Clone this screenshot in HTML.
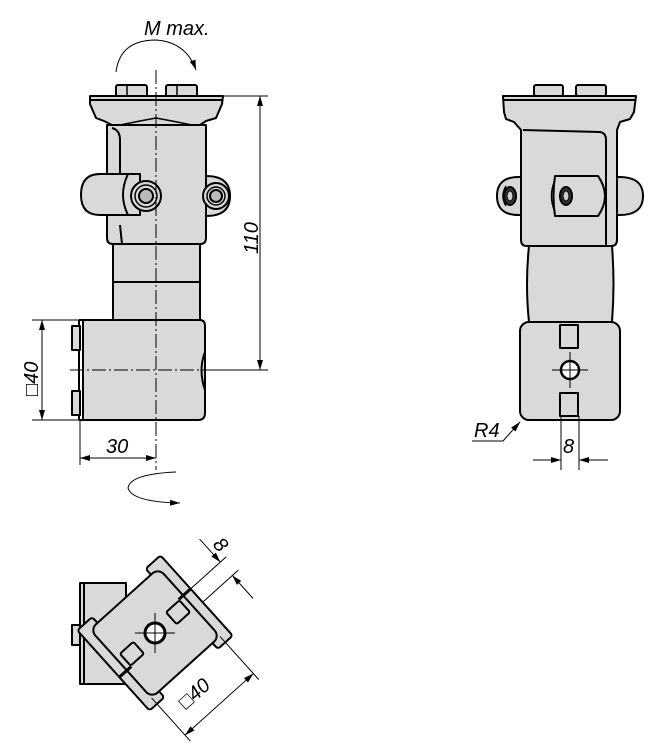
<!DOCTYPE html>
<html><head><meta charset="utf-8"><style>
html,body{margin:0;padding:0;background:#fff}
svg{display:block}
text{font-family:"Liberation Sans",sans-serif;font-style:italic;fill:#000}
</style></head><body>
<svg width="657" height="750" viewBox="0 0 657 750" xmlns="http://www.w3.org/2000/svg">
<defs>
<marker id="ar" viewBox="0 0 10 6" refX="10" refY="3" markerWidth="12" markerHeight="6" markerUnits="userSpaceOnUse" orient="auto-start-reverse"><path d="M0,0 L10,3 L0,6 Z" fill="#000"/></marker>
</defs>
<g stroke="#000" stroke-width="2" fill="#d9d9d9" stroke-linejoin="round">
<!-- LEFT VIEW -->
<rect x="116" y="85" width="31" height="12" rx="2"/>
<rect x="166" y="85" width="31" height="12" rx="2"/>
<line x1="127" y1="85" x2="127" y2="96" stroke-width="1.5"/>
<line x1="177" y1="85" x2="177" y2="96" stroke-width="1.5"/>
<path d="M90,96 L223,96 L222,104 L216,118 L206,121 L200,125 L112,125 L104,121 L96,118 L90,104 Z"/>
<line x1="90" y1="100" x2="223" y2="100"/>
<path d="M120,125 L140,121 L156,118 L172,121 L192,125" fill="none" stroke-width="1.5"/>
<rect x="113" y="240" width="87" height="82" />
<line x1="113" y1="282" x2="200" y2="282"/>
<path d="M107,125 L206,125 L206,238 Q206,244 200,244 L113,244 Q107,244 107,238 Z"/>
<path d="M122,244 L120,225 M120,214 L120,140 Q120,130 112,128" fill="none"/>
<path d="M100,174 L140,174 L140,215 L100,215 Q81,215 81,195 Q81,174 100,174 Z"/>
<path d="M128,174 Q118,195 128,215" fill="none"/>
<circle cx="146" cy="196" r="15"/>
<circle cx="146" cy="196" r="11" stroke-width="1.5"/>
<circle cx="146" cy="196" r="7" fill="#bbb"/>
<path d="M206,176 Q230,176 230,196 Q230,216 206,216 Z"/>
<circle cx="216" cy="196" r="13"/>
<circle cx="216" cy="196" r="9" stroke-width="1.5"/>
<circle cx="216" cy="196" r="6" fill="#bbb"/>
<path d="M83,320 L200,320 Q205,320 205,326 L205,413 Q205,420 198,420 L83,420 Z"/>
<line x1="79" y1="320" x2="79" y2="420"/>
<line x1="79" y1="320" x2="84" y2="320"/><line x1="79" y1="420" x2="84" y2="420"/>
<rect x="72" y="326" width="8" height="24"/>
<rect x="72" y="391" width="8" height="24"/>
<path d="M205,352 Q198,370 205,390" fill="none"/>
<!-- RIGHT VIEW -->
<rect x="534" y="85" width="29" height="11" rx="2"/>
<rect x="576" y="85" width="30" height="11" rx="2"/>
<path d="M503,96 L636,96 L634,112 L630,119 L620,122 L617,130 L617,240 Q617,246 611,246 L527,246 Q521,246 521,240 L521,130 L514,122 L506,119 L504,112 Z"/>
<line x1="503" y1="100" x2="636" y2="100"/>
<path d="M523,130 L600,132 Q606,133 606,140 L606,246" fill="none"/>
<path d="M521,177 Q497,176 497,196 Q497,216 521,215 Z"/>
<path d="M617,177 Q643,176 643,196 Q643,216 617,215 Z"/>
<path d="M555,176 L598,176 Q612,196 598,216 L555,216 Q552,196 555,176 Z"/>
<path d="M506,186 Q500,196 506,206 M555,180 Q548,196 555,212" fill="none" stroke-width="1.5"/>
<ellipse cx="510" cy="196" rx="6" ry="9" fill="#333"/>
<ellipse cx="566" cy="196" rx="6" ry="9" fill="#333"/>
<ellipse cx="510" cy="196" rx="3" ry="5" fill="#ccc" stroke-width="1"/>
<ellipse cx="566" cy="196" rx="3" ry="5" fill="#ccc" stroke-width="1"/>
<path d="M529,246 L612,246 Q615,284 612,322 L529,322 Q525,284 529,246 Z"/>
<rect x="520" y="322" width="100" height="98" rx="9"/>
<rect x="560" y="325" width="18" height="23"/>
<rect x="560" y="393" width="18" height="23"/>
<circle cx="570" cy="370" r="9" fill="#fff" stroke-width="2.5"/>
<!-- BOTTOM VIEW -->
<rect x="80" y="583" width="46" height="101"/>
<line x1="84" y1="583" x2="84" y2="684"/>
<rect x="72" y="625" width="8" height="20"/>
<g transform="translate(155,633) rotate(-42)">
<rect x="36" y="-54" width="20" height="108" rx="3"/>
<rect x="-56" y="-54" width="20" height="108" rx="3"/>
<rect x="-46" y="-46" width="92" height="92" rx="8"/>
<line x1="40" y1="-9" x2="56" y2="-9" stroke-width="3"/>
<line x1="-56" y1="9" x2="-40" y2="9" stroke-width="3"/>
<rect x="22" y="-8" width="18" height="16" rx="2"/>
<rect x="-40" y="-8" width="18" height="16" rx="2"/>
</g>
<circle cx="155" cy="633" r="10" fill="#fff" stroke-width="3"/>
</g>
<!-- centerlines -->
<g stroke="#000" stroke-width="1" fill="none" stroke-dasharray="14,3,2,3">
<line x1="156" y1="70" x2="156" y2="470"/>
<line x1="70" y1="370" x2="215" y2="370"/>
</g>
<g stroke="#000" stroke-width="1" fill="none">
<line x1="552" y1="370" x2="588" y2="370"/><line x1="570" y1="352" x2="570" y2="388"/>
<line x1="135" y1="633" x2="175" y2="633"/><line x1="155" y1="613" x2="155" y2="653"/>
<line x1="205" y1="96" x2="268" y2="96"/>
<line x1="205" y1="370" x2="268" y2="370"/>
<line x1="260" y1="96" x2="260" y2="370" marker-start="url(#ar)" marker-end="url(#ar)"/>
<line x1="32" y1="320" x2="82" y2="320"/>
<line x1="32" y1="420" x2="82" y2="420"/>
<line x1="42" y1="320" x2="42" y2="420" marker-start="url(#ar)" marker-end="url(#ar)"/>
<line x1="80" y1="420" x2="80" y2="465"/>
<line x1="80" y1="458" x2="156" y2="458" marker-start="url(#ar)" marker-end="url(#ar)"/>
<line x1="561" y1="416" x2="561" y2="470"/>
<line x1="579" y1="416" x2="579" y2="470"/>
<line x1="533" y1="460" x2="561" y2="460" marker-end="url(#ar)"/>
<line x1="608" y1="460" x2="579" y2="460" marker-end="url(#ar)"/>
<polyline points="472,441 503,441 520,422" marker-end="url(#ar)"/>
<path d="M116,72 Q120,40 156,40 Q186,42 196,70" marker-end="url(#ar)"/>
<path d="M176,472 Q130,474 128,488 Q132,502 180,503" marker-end="url(#ar)"/>
<g transform="translate(155,633) rotate(-42)">
<line x1="56" y1="-9" x2="104" y2="-9"/>
<line x1="56" y1="9" x2="104" y2="9"/>
<line x1="96" y1="-40" x2="96" y2="-9" marker-end="url(#ar)"/>
<line x1="96" y1="40" x2="96" y2="9" marker-end="url(#ar)"/>
<line x1="-46" y1="46" x2="-46" y2="104"/>
<line x1="46" y1="46" x2="46" y2="104"/>
<line x1="-46" y1="96" x2="46" y2="96" marker-start="url(#ar)" marker-end="url(#ar)"/>
</g>
</g>
<g font-size="20">
<text x="144" y="35">M max.</text>
<text x="106" y="453">30</text>
<text x="474" y="437">R4</text>
<text x="563" y="453">8</text>
<text transform="translate(258,254) rotate(-90)">110</text>
<text transform="translate(38,396) rotate(-90)">□40</text>
<text transform="translate(212,545) rotate(48)">8</text>
<text transform="translate(186,710) rotate(-42)">□40</text>
</g>
</svg>
</body></html>
